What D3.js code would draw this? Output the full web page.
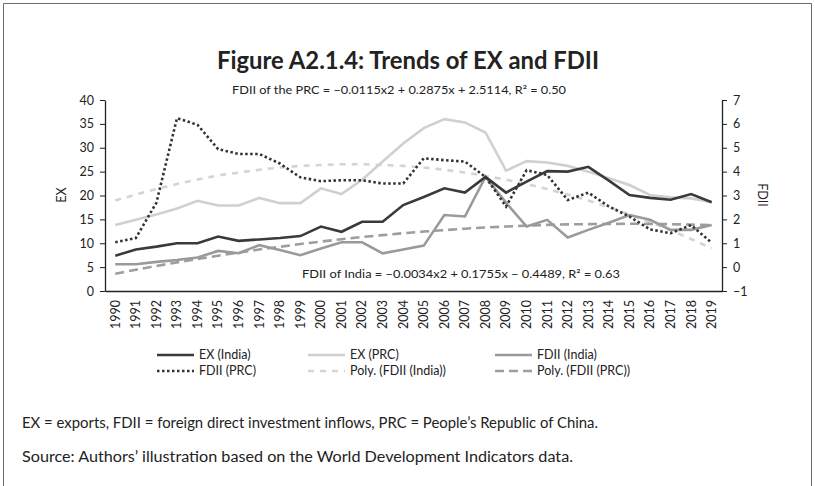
<!DOCTYPE html>
<html>
<head>
<meta charset="utf-8">
<script src="https://cdn.jsdelivr.net/npm/d3@7"></script>
<style>
  body { margin: 0; background: #fff; }
  text { font-family: Lato, "Noto Sans", sans-serif; fill: #222; }
</style>
</head>
<body>
<script>
const years = d3.range(1990, 2020);

// EX, % of GDP (left axis)
const exIndia = [7.4, 8.7, 9.3, 10.0, 10.0, 11.4, 10.5, 10.8, 11.1, 11.5, 13.5, 12.4, 14.5, 14.5, 18.0,
  19.7, 21.5, 20.6, 23.9, 20.6, 22.9, 25.1, 25.0, 26.0, 23.1, 20.1, 19.5, 19.1, 20.3, 18.6];
const exPRC = [13.8, 14.9, 16.0, 17.3, 18.9, 17.9, 17.9, 19.5, 18.4, 18.4, 21.5, 20.3, 23.3, 27.1, 30.9,
  34.1, 36.0, 35.3, 33.2, 25.2, 27.2, 26.9, 26.2, 25.0, 23.6, 22.2, 20.1, 19.6, 19.4, 18.6];

// FDII, % of GDP (right axis)
const fdiiIndia = [0.12, 0.12, 0.22, 0.30, 0.40, 0.68, 0.58, 0.92, 0.72, 0.50, 0.78, 1.04, 1.04, 0.58, 0.74,
  0.90, 2.18, 2.12, 3.78, 2.70, 1.70, 1.98, 1.24, 1.56, 1.86, 2.18, 1.98, 1.56, 1.56, 1.76];
const fdiiPRC = [1.04, 1.22, 2.70, 6.24, 5.96, 4.94, 4.74, 4.74, 4.34, 3.76, 3.60, 3.64, 3.64, 3.50, 3.50,
  4.56, 4.48, 4.42, 3.78, 2.54, 4.06, 3.86, 2.81, 3.12, 2.54, 2.12, 1.58, 1.42, 1.76, 1.02];

// polynomial trend lines as drawn
const polyLight = [2.79, 3.04, 3.27, 3.48, 3.67, 3.84, 3.96, 4.08, 4.17, 4.24, 4.28, 4.31, 4.31, 4.28, 4.24,
  4.17, 4.08, 3.96, 3.82, 3.66, 3.48, 3.27, 3.04, 2.79, 2.51, 2.21, 1.89, 1.55, 1.18, 0.79];
const polyMid = [-0.28, -0.11, 0.05, 0.20, 0.34, 0.48, 0.61, 0.74, 0.85, 0.97, 1.07, 1.17, 1.26, 1.34, 1.42,
  1.49, 1.55, 1.61, 1.66, 1.70, 1.74, 1.77, 1.79, 1.80, 1.81, 1.82, 1.81, 1.80, 1.78, 1.76];

const leftTicks = [0, 5, 10, 15, 20, 25, 30, 35, 40];
const rightTicks = [-1, 0, 1, 2, 3, 4, 5, 6, 7];

const title = "Figure A2.1.4: Trends of EX and FDII";
const eqPRC = "FDII of the PRC = \u22120.0115x2 + 0.2875x + 2.5114, R\u00b2 = 0.50";
const eqIndia = "FDII of India = \u22120.0034x2 + 0.1755x \u2212 0.4489, R\u00b2 = 0.63";
const notes = [
  "EX = exports, FDII = foreign direct investment inflows, PRC = People\u2019s Republic of China.",
  "Source: Authors\u2019 illustration based on the World Development Indicators data."
];
const noteWidths = [576, 551];

const W = 815, H = 486;
const svg = d3.select("body").append("svg")
    .attr("width", W)
    .attr("height", H);

svg.append("rect").attr("width", W).attr("height", H).attr("fill", "#fff");

// frame
svg.append("path")
    .attr("d", "M3.5," + H + "V3.5H811.5V" + H)
    .attr("fill", "none")
    .attr("stroke", "#6b6b6b")
    .attr("stroke-width", 1);

const x = d3.scaleBand().domain(years).range([105, 722]);
const yL = d3.scaleLinear().domain([0, 40]).range([291, 100]);
const yR = d3.scaleLinear().domain([-1, 7]).range([291, 100]);
const cx = d => x(d) + x.bandwidth() / 2;

// title
svg.append("text")
    .attr("x", 408).attr("y", 69)
    .attr("text-anchor", "middle")
    .attr("textLength", 382).attr("lengthAdjust", "spacingAndGlyphs")
    .style("font-size", "25px").style("font-weight", "bold")
    .text(title);

// axes
const gL = svg.append("g").attr("transform", "translate(105,0)")
    .call(d3.axisLeft(yL).tickValues(leftTicks).tickSize(5).tickSizeOuter(0).tickPadding(6));
const gR = svg.append("g").attr("transform", "translate(722,0)")
    .call(d3.axisRight(yR).tickValues(rightTicks)
      .tickFormat(d => d < 0 ? "\u2212" + Math.abs(d) : d)
      .tickSize(5).tickSizeOuter(0).tickPadding(6));
const gB = svg.append("g").attr("transform", "translate(0,291)")
    .call(d3.axisBottom(x).tickSize(0).tickSizeOuter(0).tickPadding(0));

[gL, gR, gB].forEach(g => {
  g.select(".domain").attr("stroke", "#222").attr("stroke-width", 1.3);
  g.selectAll(".tick line").attr("stroke", "#222");
  g.selectAll("text").style("font-size", "12.5px").attr("fill", "#222")
    .style("font-family", "Lato, 'Noto Sans', sans-serif");
});
gB.selectAll("text")
    .attr("transform", "rotate(-90)")
    .attr("text-anchor", "end")
    .attr("x", -9).attr("y", 0).attr("dy", "0.35em");

svg.append("text")
    .attr("transform", "translate(66,195) rotate(-90)")
    .attr("text-anchor", "middle")
    .style("font-size", "12.5px")
    .text("EX");
svg.append("text")
    .attr("transform", "translate(758,195) rotate(90)")
    .attr("text-anchor", "middle")
    .style("font-size", "12.5px")
    .text("FDII");

// series
const series = [
  { label: "Poly. (FDII (India))", values: polyLight, scale: yR, color: "#d4d4d4", dash: "6,6" },
  { label: "Poly. (FDII (PRC))", values: polyMid, scale: yR, color: "#9e9e9e", dash: "9,5" },
  { label: "EX (PRC)", values: exPRC, scale: yL, color: "#d0d0d0", dash: null },
  { label: "FDII (India)", values: fdiiIndia, scale: yR, color: "#9a9a9a", dash: null },
  { label: "EX (India)", values: exIndia, scale: yL, color: "#3a3a3a", dash: null },
  { label: "FDII (PRC)", values: fdiiPRC, scale: yR, color: "#333333", dash: "2.5,2.5" }
];

series.forEach(s => {
  const line = d3.line()
      .x((d, i) => cx(years[i]))
      .y(d => s.scale(d));
  svg.append("path")
      .datum(s.values)
      .attr("d", line)
      .attr("fill", "none")
      .attr("stroke", s.color)
      .attr("stroke-width", 2.6)
      .attr("stroke-dasharray", s.dash);
});

// equations
svg.append("text")
    .attr("x", 232).attr("y", 94)
    .attr("textLength", 334).attr("lengthAdjust", "spacingAndGlyphs")
    .style("font-size", "11.5px")
    .text(eqPRC);
svg.append("text")
    .attr("x", 302).attr("y", 278)
    .attr("textLength", 318).attr("lengthAdjust", "spacingAndGlyphs")
    .style("font-size", "11.5px")
    .text(eqIndia);

// legend
const legendOrder = ["EX (India)", "EX (PRC)", "FDII (India)", "FDII (PRC)", "Poly. (FDII (India))", "Poly. (FDII (PRC))"];
const colX = [157, 308, 495];
const rowY = [355, 371];
legendOrder.forEach((name, i) => {
  const s = series.find(d => d.label === name);
  const lx = colX[i % 3], ly = rowY[Math.floor(i / 3)];
  svg.append("line")
      .attr("x1", lx).attr("x2", lx + 37)
      .attr("y1", ly).attr("y2", ly)
      .attr("stroke", s.color)
      .attr("stroke-width", 2.6)
      .attr("stroke-dasharray", s.dash);
  svg.append("text")
      .attr("x", lx + 42).attr("y", ly)
      .attr("dy", "0.35em")
      .style("font-size", "12.5px")
      .text(name);
});

// notes
notes.forEach((t, i) => {
  svg.append("text")
      .attr("x", 22).attr("y", 428 + i * 34)
      .attr("textLength", noteWidths[i]).attr("lengthAdjust", "spacingAndGlyphs")
      .style("font-size", "15.5px")
      .attr("fill", "#333")
      .text(t);
});
</script>
</body>
</html>
